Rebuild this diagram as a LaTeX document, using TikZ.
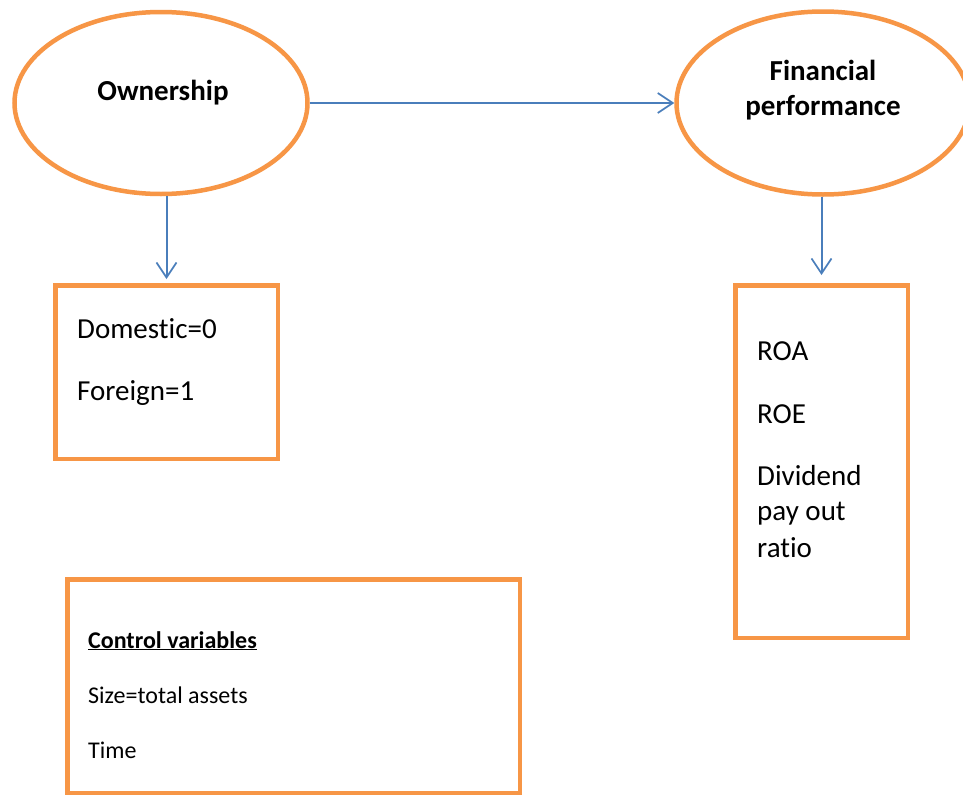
\documentclass[tikz,border=0pt]{standalone}
\usepackage{fontspec}
\setmainfont{Carlito}[Ligatures=NoCommon]
\usetikzlibrary{arrows.meta,shapes.geometric}
\definecolor{orng}{HTML}{F79646}
\definecolor{blu}{HTML}{4A7EBB}
\begin{document}
\begin{tikzpicture}[x=1pt,y=-1pt,
  oval/.style={ellipse,draw=orng,line width=4.5pt,inner sep=0pt,fill=white},
  box/.style={rectangle,draw=orng,line width=4.5pt,inner sep=0pt},
  conn/.style={draw=blu,line width=2pt,-{Straight Barb[length=15pt,width=20pt,line width=1.7pt]}},
  big/.style={font=\fontsize{29}{35}\selectfont,inner sep=0pt},
  bigb/.style={font=\fontsize{29}{35}\selectfont\bfseries,inner sep=0pt},
  small/.style={font=\fontsize{24}{29}\selectfont,inner sep=0pt}]
\useasboundingbox (0,0) rectangle (963,795);
\clip (0,0) rectangle (963,795);
\fill[white] (0,0) rectangle (963,795);
% ellipses
\node[oval,minimum width=293pt,minimum height=182pt] (own) at (161,103) {};
\node[oval,minimum width=293pt,minimum height=183pt] (fin) at (823,103) {};
\node[bigb,anchor=base] (ownt) at (163,100) {Ownership};
\node[bigb,anchor=base] (fint1) at (823,80) {Financial};
\node[bigb,anchor=base] (fint2) at (823,115) {performance};
% boxes
\node[box,minimum width=222.5pt,minimum height=173.5pt] (dom) at (166.5,372) {};
\node[box,minimum width=172.5pt,minimum height=352.5pt] (roa) at (821.5,461.5) {};
\node[box,minimum width=452.5pt,minimum height=213.5pt] (ctl) at (293.5,686) {};
% box texts
\node[big,anchor=base west] (d0) at (77,338) {Domestic=0};
\node[big,anchor=base west] (f1) at (77,400) {Foreign=1};
\node[big,anchor=base west] (r1) at (757,360) {ROA};
\node[big,anchor=base west] (r2) at (757,423) {ROE};
\node[big,anchor=base west] (r3) at (757,485) {Dividend};
\node[big,anchor=base west] (r4) at (757,520) {pay out};
\node[big,anchor=base west] (r5) at (757,557) {ratio};
\node[small,font=\fontsize{24}{29}\selectfont\bfseries,anchor=base west] (cv) at (88,648) {\underline{Control variables}};
\node[small,anchor=base west] (sz) at (88,703) {Size=total assets};
\node[small,anchor=base west] (tm) at (88,758) {Time};
% connectors
\draw[conn] (own.east) -- (fin.west);
\draw[conn] (own.south -| dom.north) -- ([yshift=4pt]dom.north);
\draw[conn] (fin.south -| roa.north) -- ([yshift=8pt]roa.north);
\end{tikzpicture}
\end{document}
